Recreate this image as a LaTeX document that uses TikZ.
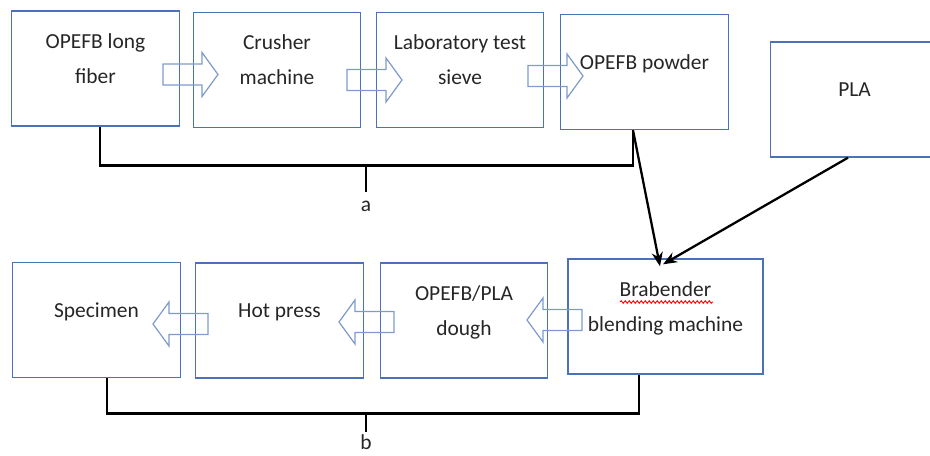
\documentclass[tikz,border=0pt]{standalone}
\usepackage{fontspec}
\setmainfont{Carlito}
\usetikzlibrary{arrows.meta,decorations.pathmorphing}
\definecolor{boxblue}{HTML}{4A72B8}
\definecolor{arrowblue}{HTML}{7F9BCB}
\newcommand{\lift}{\rule[-0.4cm]{0pt}{0.4cm}}
\tikzset{
  stepbox/.style={draw=boxblue, line width=0.8pt, minimum width=3.35cm, minimum height=2.3cm,
    inner sep=0pt, align=center, text=black!85, font=\fontsize{12.2}{19.9}\selectfont},
  tag/.style={text=black!85, inner sep=0pt, font=\fontsize{12.2}{19.9}\selectfont},
  bracket/.style={line width=1.6pt},
  feed/.style={-{Stealth[length=0.28cm,width=0.22cm]}, line width=1.3pt},
  pics/fatarrow/.style={code={
    \draw[arrowblue, line width=0.7pt] (0,-10.5) -- (39,-10.5) -- (39,-22) -- (55,0)
      -- (39,22) -- (39,10.5) -- (0,10.5) -- cycle;}},
}

\begin{document}
\begin{tikzpicture}[x=0.02cm, y=-0.02cm]
  \useasboundingbox (0,0) rectangle (930,456);
  % fiber preparation
  \node[stepbox] (fiber)   at (95.5,68.5) {OPEFB long\\fiber\lift};
  \node[stepbox] (crusher) at (277,70)    {Crusher\\machine\lift};
  \node[stepbox] (sieve)   at (460,70)    {Laboratory test\\sieve\lift};
  \node[stepbox] (powder)  at (644.5,72)  {OPEFB powder\lift};
  \node[stepbox] (pla)     at (854.5,99.5) {PLA\lift};
  % composite making
  \node[stepbox] (specimen) at (96.5,320)  {Specimen\lift};
  \node[stepbox] (press)    at (279.5,320.5) {Hot press\lift};
  \node[stepbox] (dough)    at (464,320.5) {OPEFB/PLA\\dough\lift};
  \node[stepbox, minimum width=3.9cm] (brab) at (665.5,316.5) {Brabender\\blending machine\lift};
  % hollow block arrows
  \pic at (163,74.5) {fatarrow};
  \pic at (347,80)   {fatarrow};
  \pic at (528,76)   {fatarrow};
  \pic[rotate=180] at (208,324) {fatarrow};
  \pic[rotate=180] at (394,322) {fatarrow};
  \pic[rotate=180] at (582,320) {fatarrow};
  % feeds into the blender
  \draw[feed] ([xshift=-0.23cm]powder.south) -- ([xshift=-0.11cm,yshift=-0.16cm]brab.north);
  \draw[feed] ([xshift=-0.13cm]pla.south) -- ([xshift=-0.05cm,yshift=-0.12cm]brab.north);
  % spell-check mark
  \draw[red, line width=0.5pt, decorate, decoration={snake, amplitude=0.025cm, segment length=0.08cm}]
    (620,302) -- (713,302);
  % bracket a
  \draw[bracket] ([xshift=0.09cm]fiber.south) -- ++(0,39) -| ([xshift=-0.23cm]powder.south);
  \draw[bracket] (366,165) -- (366,192);
  \node[tag] (la) at (366,206) {a};
  % bracket b
  \draw[bracket] ([xshift=0.21cm]specimen.south) -- ++(0,35) -| ([xshift=-0.53cm]brab.south);
  \draw[bracket] (366,413) -- (366,432);
  \node[tag] (lb) at (366,442) {b};
\end{tikzpicture}
\end{document}
